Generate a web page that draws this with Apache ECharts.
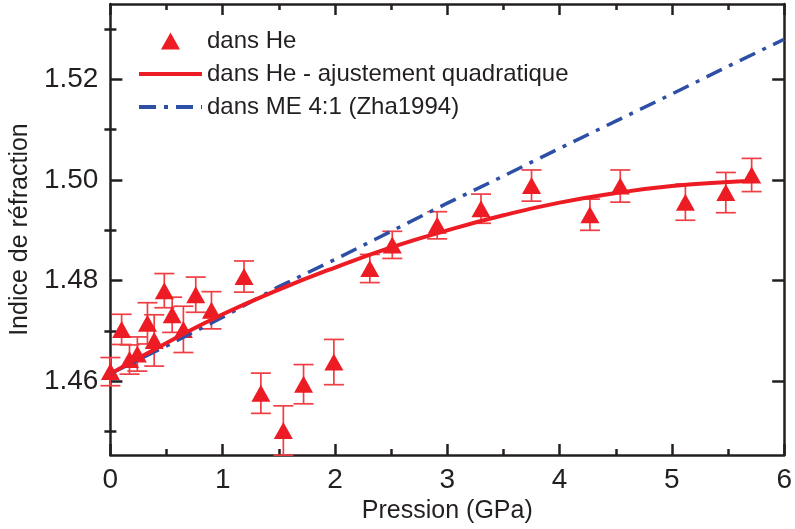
<!DOCTYPE html>
<html>
<head>
<meta charset="utf-8">
<script src="https://cdn.jsdelivr.net/npm/echarts@6/dist/echarts.min.js"></script>
<style>
  html, body { margin: 0; padding: 0; background: #fff; }
  #chart { width: 795px; height: 529px; }
</style>
</head>
<body>
<div id="chart"></div>
<script>
// measured points (helium)
const pressure = [0.00, 0.10, 0.17, 0.24, 0.33, 0.39, 0.48, 0.55, 0.65, 0.76, 0.90, 1.19, 1.34,
                  1.54, 1.72, 1.99, 2.31, 2.51, 2.91, 3.30, 3.75, 4.27, 4.54, 5.12, 5.48, 5.71];
const indexHe = [1.4619, 1.4703, 1.4643, 1.4654, 1.4715, 1.4681, 1.4780, 1.4732, 1.4703, 1.4772, 1.4741,
                 1.4808, 1.4576, 1.4502, 1.4594, 1.4638, 1.4824, 1.4871, 1.4910, 1.4943, 1.4989, 1.4931,
                 1.4988, 1.4956, 1.4975, 1.5010];
const errHe = [0.0028, 0.0030, 0.0029, 0.0034, 0.0041, 0.0051, 0.0034, 0.0035, 0.0046, 0.0035, 0.0037,
               0.0031, 0.0040, 0.0049, 0.0039, 0.0045, 0.0028, 0.0027, 0.0027, 0.0029, 0.0031, 0.0031,
               0.0032, 0.0036, 0.0040, 0.0033];

// quadratic fit curve
const fitP = [0, 0.5, 1, 1.5, 2, 2.5, 3, 3.5, 4, 4.5, 5, 5.5, 5.75];
const fitN = [1.4615, 1.4676, 1.4733, 1.4782, 1.4826, 1.4866, 1.4900, 1.4930, 1.4955, 1.4974, 1.4988, 1.4996, 1.4998];

// ME 4:1 reference curve (Zha1994)
const zhaP = [0, 0.5, 1, 1.5, 2, 2.5, 3, 3.5, 4, 4.5, 5, 5.5, 6];
const zhaN = [1.4615, 1.4670, 1.4727, 1.4788, 1.4842, 1.4898, 1.4954, 1.5008, 1.5063, 1.5117, 1.5171, 1.5226, 1.5280];

const yMajor = [1.46, 1.48, 1.50, 1.52];
const yMinor = [1.45, 1.47, 1.49, 1.51, 1.53];

const names = ['dans He', 'dans He - ajustement quadratique', 'dans ME 4:1 (Zha1994)'];

const ink = '#231F20';
const red = '#ED1C24';
const blue = '#2E4FA6';
const font = '"Liberation Sans", Arial, sans-serif';
const yMin = 1.4453, yMax = 1.535;

const chart = echarts.init(document.getElementById('chart'));

const axisLine = { show: true, lineStyle: { color: ink, width: 2.5 } };
const xBase = {
  type: 'value', min: 0, max: 6, interval: 1,
  axisLine: Object.assign({ onZero: false }, axisLine),
  axisTick: { inside: true, length: 11, lineStyle: { color: ink, width: 2.5 } },
  minorTick: { show: true, splitNumber: 2, length: 6, lineStyle: { color: ink, width: 2.5 } },
  splitLine: { show: false }
};
const yBase = (pos, ticks, len, line, labels) => ({
  type: 'value', position: pos, min: yMin, max: yMax,
  axisLine: line ? Object.assign({ onZero: false }, axisLine) : { show: false },
  axisTick: { inside: true, length: len, customValues: ticks, lineStyle: { color: ink, width: 2.5 } },
  axisLabel: labels
    ? { customValues: ticks, fontSize: 28, color: ink, fontFamily: font, margin: 12, formatter: v => v.toFixed(2) }
    : { show: false },
  splitLine: { show: false }
});

const y0 = yBase('left', yMajor, 12, true, true);
y0.name = 'Indice de réfraction';
y0.nameLocation = 'middle';
y0.nameGap = 73;
y0.nameTextStyle = { fontSize: 25, color: ink, fontFamily: font };

// triangle centred in a 63x17 box (lone moves only widen the box)
const legendTri = 'path://M0,0M63,17M22,17L31.5,0L41,17Z';
const noMark = { color: 'rgba(0,0,0,0)', borderWidth: 0 };

chart.setOption({
  backgroundColor: '#fff',
  animation: false,
  grid: { left: 109, right: 5, top: 4, bottom: 73 },
  legend: {
    data: [
      { name: names[0], icon: legendTri },
      { name: names[1], itemStyle: noMark, lineStyle: { width: 4 } },
      { name: names[2], itemStyle: noMark, lineStyle: { width: 4 } }
    ],
    orient: 'vertical',
    left: 137, top: 29, padding: 0,
    itemWidth: 63, itemHeight: 17, itemGap: 9,
    textStyle: { fontSize: 24, color: ink, fontFamily: font }
  },
  xAxis: [
    Object.assign({}, xBase, {
      position: 'bottom',
      axisLabel: { fontSize: 28, color: ink, fontFamily: font, margin: 11 },
      name: 'Pression (GPa)', nameLocation: 'middle', nameGap: 43,
      nameTextStyle: { fontSize: 25, color: ink, fontFamily: font }
    }),
    Object.assign({}, xBase, { position: 'top', axisLabel: { show: false } })
  ],
  yAxis: [
    y0,
    yBase('left', yMinor, 6, false, false),
    yBase('right', yMajor, 12, true, false),
    yBase('right', yMinor, 6, false, false)
  ],
  series: [
    {
      name: 'errors', type: 'custom', xAxisIndex: 0, yAxisIndex: 0,
      data: pressure.map((p, i) => [p, indexHe[i], errHe[i]]),
      encode: { x: 0, y: 1 },
      renderItem: (params, api) => {
        const x = api.value(0), y = api.value(1), e = api.value(2);
        const t = api.coord([x, y + e]);
        const b = api.coord([x, y - e]);
        const h = 10;
        const st = { stroke: '#EF3E44', lineWidth: 1.7 };
        return {
          type: 'group',
          children: [
            { type: 'line', shape: { x1: t[0], y1: t[1], x2: b[0], y2: b[1] }, style: st },
            { type: 'line', shape: { x1: t[0] - h, y1: t[1], x2: t[0] + h, y2: t[1] }, style: st },
            { type: 'line', shape: { x1: b[0] - h, y1: b[1], x2: b[0] + h, y2: b[1] }, style: st }
          ]
        };
      },
      z: 2
    },
    {
      name: names[0], type: 'scatter',
      data: pressure.map((p, i) => [p, indexHe[i]]),
      symbol: 'triangle', symbolSize: [19, 17],
      itemStyle: { color: red, opacity: 1 },
      z: 3
    },
    {
      name: names[2], type: 'line',
      data: zhaP.map((p, i) => [p, zhaN[i]]),
      showSymbol: false, symbol: 'none',
      lineStyle: { color: blue, width: 3.5, type: [17, 8, 4, 8] },
      itemStyle: { color: blue },
      z: 4
    },
    {
      name: names[1], type: 'line',
      data: fitP.map((p, i) => [p, fitN[i]]),
      showSymbol: false, symbol: 'none', smooth: true,
      lineStyle: { color: red, width: 4 },
      itemStyle: { color: red },
      z: 5
    }
  ]
});
</script>
</body>
</html>
